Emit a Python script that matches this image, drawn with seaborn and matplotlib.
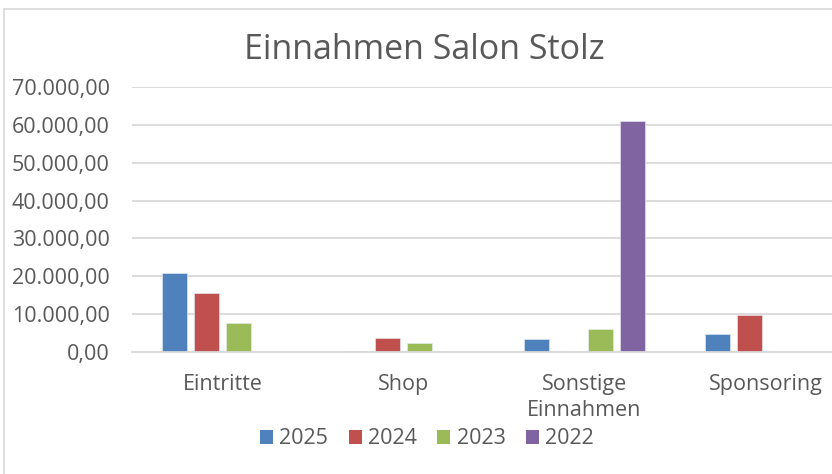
import pandas as pd
import numpy as np
import matplotlib
matplotlib.use("Agg")
import matplotlib.pyplot as plt
import seaborn as sns
from matplotlib.ticker import FuncFormatter, MultipleLocator
from matplotlib.patches import Patch
from matplotlib.lines import Line2D

# data
categories = ["Eintritte", "Shop", "Sonstige\nEinnahmen", "Sponsoring"]
years = ["2025", "2024", "2023", "2022"]
values_2025 = [20800, 250, 3550, 4850]
values_2024 = [15500, 3600, 80, 9700]
values_2023 = [7750, 2500, 6200, 0]
values_2022 = [0, 0, 61000, 0]

colors = ["#4F81BD", "#C0504D", "#9BBB59", "#8064A2"]
text_col = "#595959"
grid_col = "#D9D9D9"

rows = []
for year, vals in zip(years, [values_2025, values_2024, values_2023, values_2022]):
    for cat, v in zip(categories, vals):
        rows.append({"Kategorie": cat, "Jahr": year, "Wert": v})
df = pd.DataFrame(rows)

sns.set_theme(style="white")
plt.rcParams["font.family"] = ["Open Sans", "DejaVu Sans"]

W, H = 832, 474
fig = plt.figure(figsize=(W / 100, H / 100), dpi=100)

# plot area (extends past the right edge, like the cropped screenshot)
left, right, top, bottom = 132, 856, 87, 352
ax = fig.add_axes([left / W, 1 - bottom / H, (right - left) / W, (bottom - top) / H])

sns.barplot(data=df, x="Kategorie", y="Wert", hue="Jahr", hue_order=years,
            order=categories, palette=colors, saturation=1, width=0.707, gap=0.2,
            edgecolor="#E8EEF5", linewidth=0.4, legend=False, ax=ax)

ax.set_xlim(-0.5, 3.5)
ax.set_ylim(0, 70000)
ax.yaxis.set_major_locator(MultipleLocator(10000))
ax.yaxis.set_major_formatter(FuncFormatter(
    lambda v, p: f"{v:,.2f}".replace(",", "X").replace(".", ",").replace("X", ".")))
ax.grid(axis="y", color=grid_col, linewidth=1.3)
ax.set_axisbelow(True)
for s in ["top", "right", "left"]:
    ax.spines[s].set_visible(False)
ax.spines["bottom"].set_color(grid_col)
ax.spines["bottom"].set_linewidth(1.3)
ax.tick_params(axis="y", length=0, pad=16, labelsize=15.5, labelcolor=text_col)
ax.tick_params(axis="x", length=0, pad=16, labelsize=15.5, labelcolor=text_col)
for lbl in ax.get_xticklabels():
    lbl.set_linespacing(1.3)
ax.set_xlabel("")
ax.set_ylabel("")

fig.text(424 / W, 1 - 50 / H, "Einnahmen Salon Stolz", ha="center", va="center",
         fontsize=24.5, color=text_col)

handles = [Patch(facecolor=c, edgecolor="none", label=y) for c, y in zip(colors, years)]
fig.legend(handles=handles, loc="center", bbox_to_anchor=(427 / W, 1 - 439 / H),
           ncol=4, frameon=False, fontsize=15.5, labelcolor=text_col,
           handlelength=0.6, handleheight=0.6, handletextpad=0.3,
           columnspacing=0.95, borderpad=0)

# chart area frame (left and top edges visible)
fig.add_artist(Line2D([3.5 / W, 3.5 / W], [0, 1 - 9 / H], transform=fig.transFigure,
                      color=grid_col, linewidth=1.2))
fig.add_artist(Line2D([3.5 / W, 1], [1 - 9 / H, 1 - 9 / H], transform=fig.transFigure,
                      color=grid_col, linewidth=1.2))

fig.savefig("out.png", dpi=100)
